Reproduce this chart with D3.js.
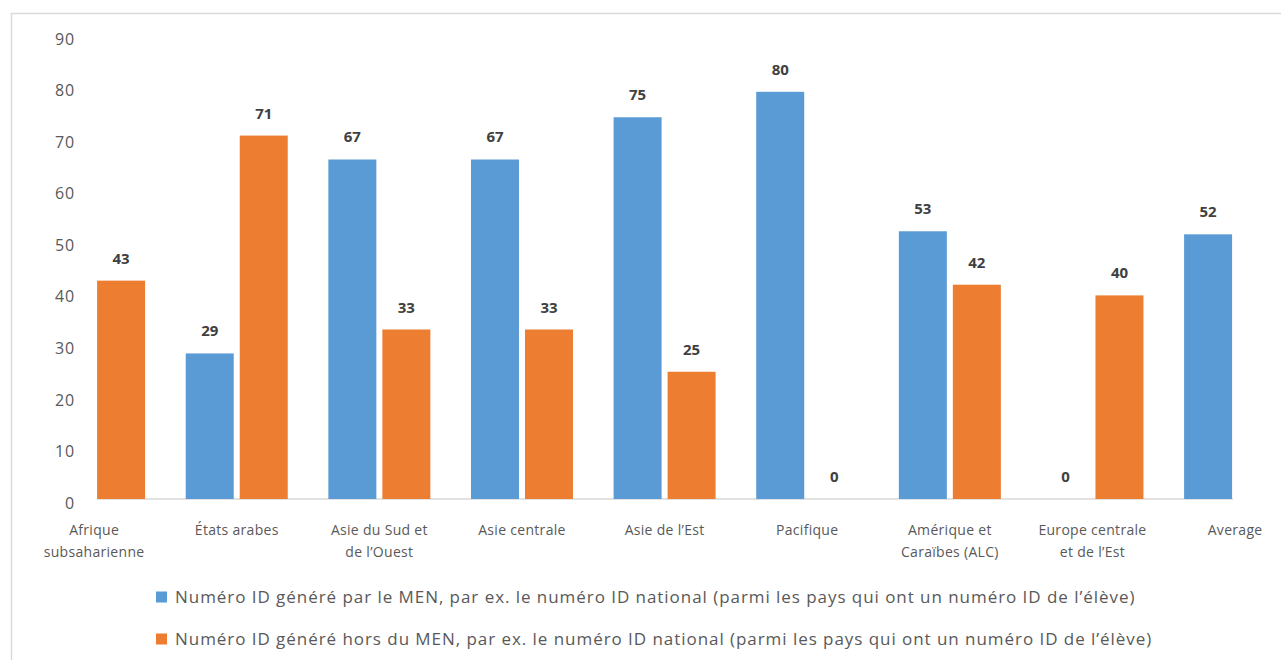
<!DOCTYPE html>
<html><head><meta charset="utf-8">
<script src="https://cdn.jsdelivr.net/npm/d3@7"></script>
<style>html,body{margin:0;padding:0;background:#fff;}svg{display:block;}</style>
</head><body>
<svg id="c" width="1281" height="660"></svg>
<script>
const categories = [
  ["Afrique", "subsaharienne"],
  ["États arabes"],
  ["Asie du Sud et", "de l’Ouest"],
  ["Asie centrale"],
  ["Asie de l’Est"],
  ["Pacifique"],
  ["Amérique et", "Caraïbes (ALC)"],
  ["Europe centrale", "et de l’Est"],
  ["Average"]
];
const seriesNames = [
  "Numéro ID généré par le MEN, par ex. le numéro ID national (parmi les pays qui ont un numéro ID de l’élève)",
  "Numéro ID généré hors du MEN, par ex. le numéro ID national (parmi les pays qui ont un numéro ID de l’élève)"
];
const menValues  = [null, 28.6, 66.7, 66.7, 75, 80, 52.6, 0, 52];
const horsValues = [42.9, 71.4, 33.3, 33.3, 25, 0, 42.1, 40, null];
const yTicks = [0, 10, 20, 30, 40, 50, 60, 70, 80, 90];
const colors = ["#5B9BD5", "#ED7D31"];

const svg = d3.select("#c");
const font = "'Open Sans', 'Liberation Sans', sans-serif";

// frame (only top and left visible)
svg.append("rect").attr("x", 11.5).attr("y", 13.5).attr("width", 1400).attr("height", 800)
  .attr("fill", "none").attr("stroke", "#d9d9d9").attr("stroke-width", 1.5);

const keys = categories.map((d, i) => i);
const x = d3.scaleBand().domain(keys).range([22.8, 1306.4]);
const y = d3.scaleLinear().domain([0, 90]).range([499, 40.9]);
const barW = 48, gap = 3;

// y axis labels (label positions follow a slightly wider spacing than the bars)
const yLab = d3.scaleLinear().domain([0, 90]).range([503, 39]);
const yAxis = d3.axisLeft(yLab).tickValues(yTicks).tickSize(0).tickPadding(0);
const yg = svg.append("g").attr("transform", "translate(75,0)").call(yAxis);
yg.select(".domain").remove();
yg.selectAll("text").attr("font-family", font).attr("font-size", 16)
  .attr("letter-spacing", 0.8).attr("fill", "#595959");

// baseline
svg.append("line").attr("x1", 97).attr("x2", 1233).attr("y1", y(0)).attr("y2", y(0))
  .attr("stroke", "#d9d9d9").attr("stroke-width", 1.5);

const series = [menValues, horsValues];
series.forEach((vals, s) => {
  const g = svg.append("g");
  vals.forEach((v, i) => {
    if (v === null) return;
    const cx = x(i) + x.bandwidth() / 2;
    const bx = s === 0 ? cx - gap - barW : cx + gap;
    g.append("rect").attr("x", bx).attr("y", y(v)).attr("width", barW)
      .attr("height", y(0) - y(v)).attr("fill", colors[s]);
    g.append("text").attr("x", bx + barW / 2).attr("y", y(v) - 17)
      .attr("text-anchor", "middle").attr("font-family", font).attr("font-size", 15)
      .attr("font-weight", "bold").attr("fill", "#404040").text(d3.format(".0f")(v));
  });
});

// category labels
categories.forEach((lines, i) => {
  const cx = x(i) + x.bandwidth() / 2;
  const t = svg.append("text").attr("text-anchor", "middle").attr("font-family", font)
    .attr("font-size", 14).attr("letter-spacing", 0.3).attr("fill", "#595959");
  lines.forEach((l, j) => {
    t.append("tspan").attr("x", cx).attr("y", 535 + j * 22).text(l);
  });
});

// legend
seriesNames.forEach((name, s) => {
  const ly = 597 + s * 42;
  svg.append("rect").attr("x", 156).attr("y", ly - 5.5).attr("width", 11).attr("height", 11).attr("fill", colors[s]);
  svg.append("text").attr("x", 175).attr("y", ly + 6).attr("font-family", font)
    .attr("font-size", 17).attr("letter-spacing", 0.95).attr("fill", "#595959").text(name);
});
</script>
</body></html>
